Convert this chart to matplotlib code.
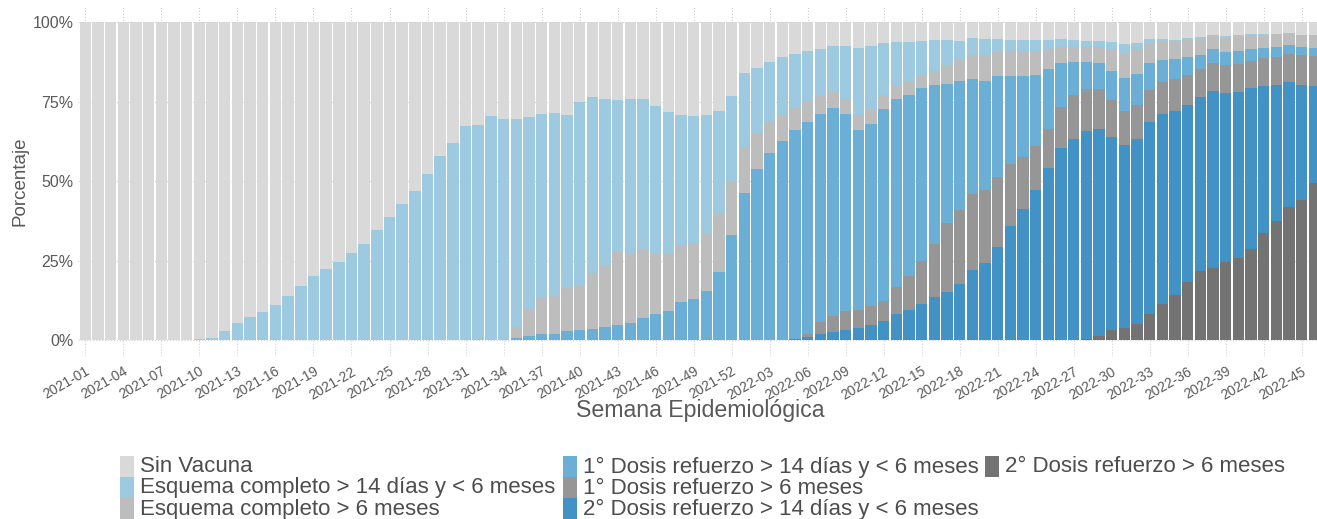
import numpy as np
import matplotlib
matplotlib.use("Agg")
import matplotlib.pyplot as plt
from matplotlib.patches import Rectangle

plt.rcParams['font.family'] = ['Liberation Sans', 'DejaVu Sans']

# semanas epidemiologicas 2021-01 .. 2022-46
weeks = ["2021-%02d" % w for w in range(1, 53)] + ["2022-%02d" % w for w in range(1, 47)]

# porcentajes por categoria
sin_vacuna = ([100.0] * 8 + [99.9, 99.8] +
              [99.4, 97.2, 94.5, 92.8, 91.2, 88.9, 86.1, 83.0, 79.9, 77.5, 75.4, 72.6,
               69.8, 65.4, 61.2, 57.2, 53.1, 47.7, 42.2, 38.0, 32.6, 32.3, 29.4, 30.3] +
              [30.3, 29.8, 28.8, 28.5, 29.1, 24.9, 23.4, 24.2, 24.4, 24.2, 24.0, 26.3,
               28.1, 29.0, 29.4, 29.1, 27.9, 23.1, 15.9, 14.3, 12.4, 11.0] +
              [9.8, 9.0, 8.2, 7.4, 7.5, 7.9, 7.4] +
              [6.6, 6.2, 6.0, 5.7, 5.5, 5.4, 5.7, 5.0, 5.2, 5.2, 5.4, 5.5, 5.5, 5.4, 5.2, 5.5] +
              [5.8, 5.8, 6.1, 6.8, 6.4, 5.3, 5.1, 5.4, 4.8, 4.6, 3.8, 4.3, 3.9, 3.6, 3.6,
               3.5, 3.3, 3.9, 3.9])

esq_14d = ([0.0] * 8 + [0.1, 0.2] +
           [0.6, 2.8, 5.5, 7.2, 8.8, 11.1, 13.9, 17.0, 20.1, 22.5, 24.6, 27.4,
            30.2, 34.6, 38.8, 42.8, 46.9, 52.3, 57.8, 62.0, 67.4, 67.5, 70.6, 69.4] +
           [65.5, 60.3, 58.1, 57.5, 54.4, 58.1, 55.4, 52.2, 48.0, 48.5, 47.8, 46.5,
            44.5, 41.2, 40.0, 37.3, 32.0, 26.9, 23.3, 20.5, 18.8, 18.1] +
           [17.0, 16.0, 14.9, 14.6, 16.5, 21.2, 20.2] +
           [16.2, 13.7, 12.8, 10.8, 9.8, 8.4, 6.2, 5.2, 4.9, 4.0, 3.6, 3.5, 3.4, 2.8, 2.4, 2.1] +
           [1.8, 1.8, 2.7, 2.7, 2.3, 1.5, 1.1, 0.8, 0.8, 0.7, 0.5, 0.6, 0.2, 0.3, 0.2,
            0.2, 0.2, 0.2, 0.2])

esq_6m = ([0.0] * 31 + [0.2, 0.0, 0.3] +
          [3.5, 8.6, 11.2, 12.2, 13.7, 13.9, 17.7, 19.5, 22.9, 21.9, 21.3, 19.0,
           18.2, 17.7, 17.8, 18.1, 18.7, 16.9, 14.4, 11.4, 9.9, 8.2] +
          [7.2, 6.3, 5.6, 4.9, 4.7, 4.8, 4.4] +
          [4.3, 4.1, 3.9, 4.0, 4.5, 5.6, 6.6, 7.5, 8.3, 7.7, 7.9, 7.9, 7.5, 6.3, 5.2, 4.8] +
          [4.7, 5.2, 6.4, 8.1, 7.5, 6.1, 5.6, 5.4, 5.2, 4.8, 4.0, 4.5, 4.9, 4.3, 4.1,
           4.0, 3.5, 3.5, 3.8])

d1_14d = ([0.0] * 34 +
          [0.7, 1.3, 1.9, 1.8, 2.8, 3.1, 3.5, 4.1, 4.7, 5.4, 6.9, 8.2, 9.2, 12.1,
           12.8, 15.5, 21.4, 33.1, 46.4, 53.8, 58.9, 62.7] +
          [65.7, 66.8, 65.6, 65.5, 62.2, 56.6, 57.3] +
          [60.5, 59.2, 57.1, 54.6, 50.0, 43.6, 40.5, 36.3, 34.4, 31.9, 27.6, 25.4,
           22.5, 19.1, 13.8, 10.4] +
          [8.6, 8.2, 9.3, 10.2, 9.8, 8.4, 6.9, 6.1, 5.8, 4.5, 4.4, 4.1, 4.1, 3.9, 3.4,
           3.3, 2.8, 2.5, 2.5])

d1_6m = ([0.0] * 57 +
         [0.9, 3.9, 5.1, 5.8, 5.6, 5.9] +
         [6.5, 8.6, 10.8, 13.6, 16.7, 22.0, 23.4, 24.1, 22.9, 21.9, 19.6, 16.3,
          13.9, 12.2, 12.9, 14.0] +
         [13.3, 12.4, 11.5, 10.9, 10.7, 10.0, 10.1, 10.2, 9.3, 8.9, 8.9, 8.6, 8.7,
          8.5, 8.7, 8.6, 8.8, 9.7, 9.6])

d2_14d = ([0.0] * 56 +
          [0.3, 1.0, 1.8, 2.5, 3.3, 3.9, 4.8] +
          [5.9, 8.2, 9.4, 11.3, 13.5, 15.0, 17.6, 21.9, 24.3, 29.3, 35.9, 41.4,
           47.2, 54.2, 60.5, 63.2] +
          [65.5, 65.2, 60.9, 57.5, 58.3, 60.5, 60.0, 57.8, 55.9, 54.8, 55.8, 53.2,
           52.5, 50.6, 46.4, 42.8, 39.5, 36.1, 30.7])

d2_6m = ([0.0] * 79 +
         [0.3, 1.4, 3.1, 3.8, 5.0, 8.2, 11.2, 14.3, 18.2, 21.7, 22.6, 24.7, 25.7,
          28.8, 33.6, 37.6, 41.9, 44.1, 49.3])

labels = ["Sin Vacuna",
          "Esquema completo > 14 días y < 6 meses",
          "Esquema completo > 6 meses",
          "1° Dosis refuerzo > 14 días y < 6 meses",
          "1° Dosis refuerzo > 6 meses",
          "2° Dosis refuerzo > 14 días y < 6 meses",
          "2° Dosis refuerzo > 6 meses"]
colors = ["#d9d9d9", "#9ecae1", "#bdbdbd", "#6baed6", "#969696", "#4292c6", "#737373"]
series = [sin_vacuna, esq_14d, esq_6m, d1_14d, d1_6m, d2_14d, d2_6m]

W, H = 1317, 519
fig = plt.figure(figsize=(W / 100, H / 100), dpi=100)
ax = fig.add_axes([77.8 / W, (H - 355.9) / H, (W - 77.8) / W, (355.9 - 6.6) / H])

x = np.arange(len(weeks))
bottom = np.zeros(len(weeks))
# apilado desde abajo: 2° dosis > 6 meses ... sin vacuna arriba
for vals, col in zip(series[::-1], colors[::-1]):
    v = np.array(vals)
    ax.bar(x, v, bottom=bottom, width=0.9, color=col, linewidth=0, zorder=2)
    bottom = bottom + v

ax.set_xlim(-0.6, 97.2)
ax.set_ylim(-5, 105)
ax.set_xticks(x[::3])
ax.set_xticklabels(weeks[::3], rotation=30, ha='right', va='top',
                   rotation_mode='anchor', fontsize=10, color='#595959')
ax.set_yticks([0, 25, 50, 75, 100])
ax.set_yticklabels(['0%', '25%', '50%', '75%', '100%'], fontsize=11.5, color='#595959')
ax.tick_params(length=0)
ax.tick_params(axis='x', pad=6)
ax.tick_params(axis='y', pad=3)
for s in ax.spines.values():
    s.set_visible(False)
ax.grid(True, linestyle=':', color='#d0d0d0', linewidth=0.8, zorder=0)
ax.set_axisbelow(True)

fig.text(20 / W, 1 - 181 / H, 'Porcentaje', rotation=90, ha='center', va='center',
         fontsize=13.5, color='#595959')
fig.text(700 / W, 1 - 411 / H, 'Semana Epidemiológica', ha='center', va='center',
         fontsize=16.7, color='#595959')

# leyenda manual (3 columnas: 3, 3, 1)
key_x = [120, 563, 985]
row_y = [466, 487, 508]
for i, (lab, col) in enumerate(zip(labels, colors)):
    c, r = divmod(i, 3)
    kx, ky = key_x[c], row_y[r]
    fig.patches.append(Rectangle((kx / W, 1 - (ky + 10.5) / H), 14 / W, 21 / H,
                                 transform=fig.transFigure, color=col, linewidth=0))
    fig.text((kx + 20) / W, 1 - (ky + 1) / H, lab, ha='left', va='center',
             fontsize=16, color='#4d4d4d')

fig.savefig('out.png', dpi=100)
